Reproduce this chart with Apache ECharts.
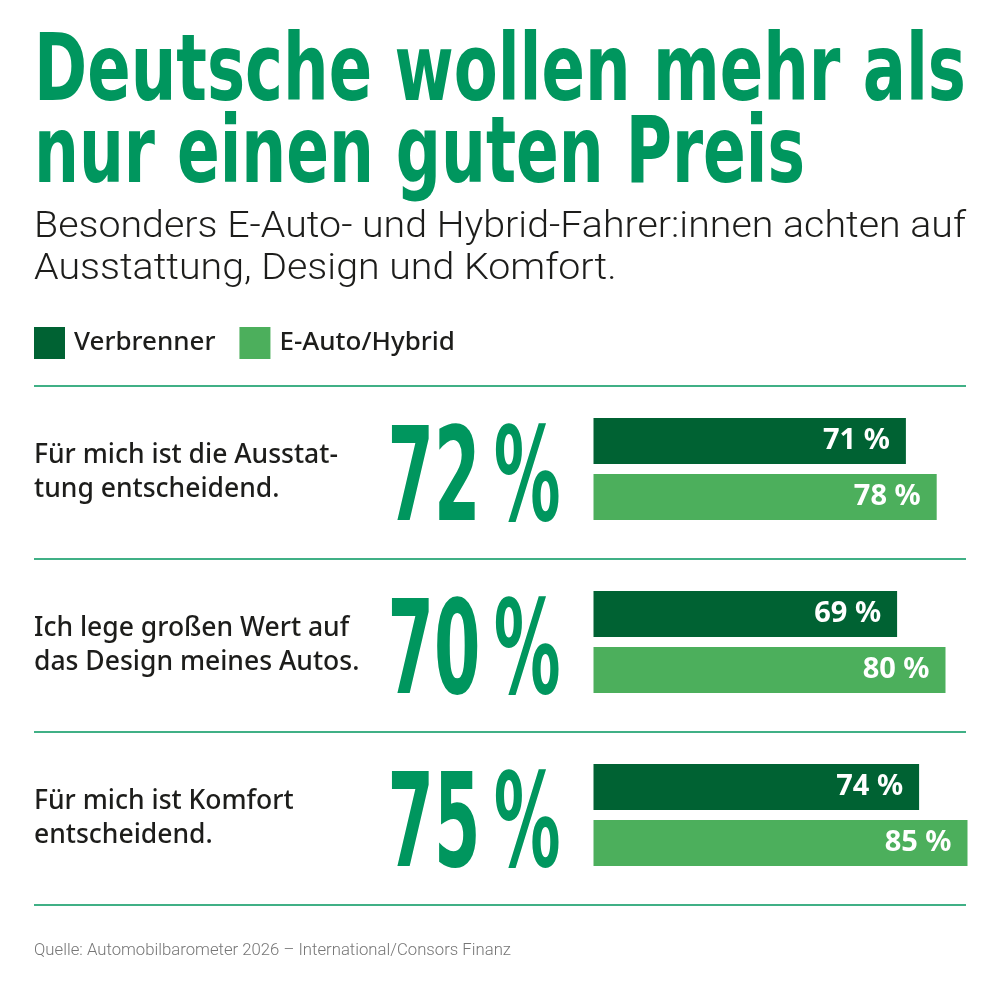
<!DOCTYPE html>
<html>
<head>
<meta charset="utf-8">
<script src="https://cdn.jsdelivr.net/npm/echarts@6/dist/echarts.min.js"></script>
<style>
html, body { margin: 0; padding: 0; background: #fff; }
#chart { width: 1000px; height: 984px; }
</style>
</head>
<body>
<div id="chart"></div>
<script>
var titleLines = ['Deutsche wollen mehr als', 'nur einen guten Preis'];
var subtitleLines = ['Besonders E-Auto- und Hybrid-Fahrer:innen achten auf', 'Ausstattung, Design und Komfort.'];
var statements = [
	'Für mich ist die Ausstat-\ntung entscheidend.',
	'Ich lege großen Wert auf\ndas Design meines Autos.',
	'Für mich ist Komfort\nentscheidend.'
];
var overall = [72, 70, 75];
var verbrenner = [71, 69, 74];
var eAuto = [78, 80, 85];
var seriesNames = ['Verbrenner', 'E-Auto/Hybrid'];
var sourceText = 'Quelle: Automobilbarometer 2026 – International/Consors Finanz';

var GREEN = '#00965e',
	DARK = '#006233',
	LIGHT = '#4caf5c',
	INK = '#1d1d1b',
	NARROW = '"Liberation Sans Narrow", "DejaVu Sans Condensed", sans-serif';

var ctx = document.createElement('canvas').getContext('2d');
function measure(text, weight, size, family){
	ctx.font = weight + ' ' + size + 'px ' + family;
	return ctx.measureText(text).width;
}

// squeeze the condensed headings to the reference widths
var titleScale1 = 932 / measure(titleLines[0], 'bold', 93, NARROW);
var titleScale2 = 771 / measure(titleLines[1], 'bold', 93, NARROW);
var subScale = 932 / measure(subtitleLines[0], '300', 37, 'Roboto');
var srcScale = 477 / measure(sourceText, '300', 17, 'Roboto');
var bigScale = 173 / measure('72\u2009%', 'bold', 130, NARROW);

var myChart = echarts.init(document.getElementById('chart'));

var option = {
	backgroundColor: '#fff',
	animation: false,
	graphic: [
		{ type: 'text', x: 34, y: 76, scaleX: titleScale1,
			style: { text: titleLines[0], fill: GREEN, fontSize: 93, fontWeight: 'bold', fontFamily: NARROW, verticalAlign: 'middle' } },
		{ type: 'text', x: 34, y: 158, scaleX: titleScale2,
			style: { text: titleLines[1], fill: GREEN, fontSize: 93, fontWeight: 'bold', fontFamily: NARROW, verticalAlign: 'middle' } },
		{ type: 'text', x: 34, y: 228, scaleX: subScale,
			style: { text: subtitleLines[0], fill: INK, fontSize: 37, fontWeight: 300, fontFamily: 'Roboto', verticalAlign: 'middle' } },
		{ type: 'text', x: 34, y: 270, scaleX: subScale,
			style: { text: subtitleLines[1], fill: INK, fontSize: 37, fontWeight: 300, fontFamily: 'Roboto', verticalAlign: 'middle' } },
		{ type: 'text', x: 34, y: 951, scaleX: srcScale,
			style: { text: sourceText, fill: '#767676', fontSize: 17, fontWeight: 300, fontFamily: 'Roboto', verticalAlign: 'middle' } }
	],
	legend: {
		left: 34,
		top: 327,
		padding: 0,
		itemWidth: 31,
		itemHeight: 32,
		itemGap: 24,
		icon: 'rect',
		data: seriesNames,
		textStyle: { fontSize: 26, fontWeight: 500, color: INK, fontFamily: '"Noto Sans"', padding: [5, 0, 0, 4] }
	},
	grid: [
		// bars
		{ left: 593.5, right: 10.5, top: 382.5, bottom: 82.5 },
		// full width rows: statements and separators
		{ left: 34, right: 34, top: 386, bottom: 79 }
	],
	xAxis: [
		{ gridIndex: 0, type: 'value', min: 0, max: 90, show: false },
		{ gridIndex: 1, type: 'value', min: 0, max: 1, show: false }
	],
	yAxis: [
		{ gridIndex: 0, type: 'category', inverse: true, data: statements,
			axisLine: { show: false }, axisTick: { show: false }, axisLabel: { show: false }, splitLine: { show: false } },
		{ gridIndex: 1, type: 'category', inverse: true, data: statements,
			axisLine: { show: false }, axisTick: { show: false },
			splitLine: { show: true, lineStyle: { color: GREEN, width: 1.5 } },
			axisLabel: { inside: true, margin: 0, align: 'left', fontSize: 26.5, lineHeight: 34, fontWeight: 500, color: INK, fontFamily: '"Noto Sans"' } }
	],
	series: [
		{
			name: seriesNames[0], type: 'bar', xAxisIndex: 0, yAxisIndex: 0,
			data: verbrenner, barWidth: 46, barGap: '22%',
			itemStyle: { color: DARK },
			label: { show: true, position: 'insideRight', distance: 16, formatter: '{c} %', color: '#fff', fontSize: 29, fontWeight: 'bold', fontFamily: '"Noto Sans"' }
		},
		{
			name: seriesNames[1], type: 'bar', xAxisIndex: 0, yAxisIndex: 0,
			data: eAuto, barWidth: 46, barGap: '22%',
			itemStyle: { color: LIGHT },
			label: { show: true, position: 'insideRight', distance: 16, formatter: '{c} %', color: '#fff', fontSize: 29, fontWeight: 'bold', fontFamily: '"Noto Sans"' }
		},
		{
			// big overall share left of the bars
			type: 'custom', xAxisIndex: 0, yAxisIndex: 0, silent: true,
			data: overall.map(function(v, i){ return [v, i]; }),
			renderItem: function(params, api){
				var pt = api.coord([0, api.value(1)]);
				return {
					type: 'text', x: pt[0] - 33, y: pt[1] + 17, scaleX: bigScale,
					style: { text: api.value(0) + '\u2009%', fill: GREEN, fontSize: 130, fontWeight: 'bold', fontFamily: NARROW, align: 'right', verticalAlign: 'middle' }
				};
			}
		}
	]
};

myChart.setOption(option);
</script>
</body>
</html>
